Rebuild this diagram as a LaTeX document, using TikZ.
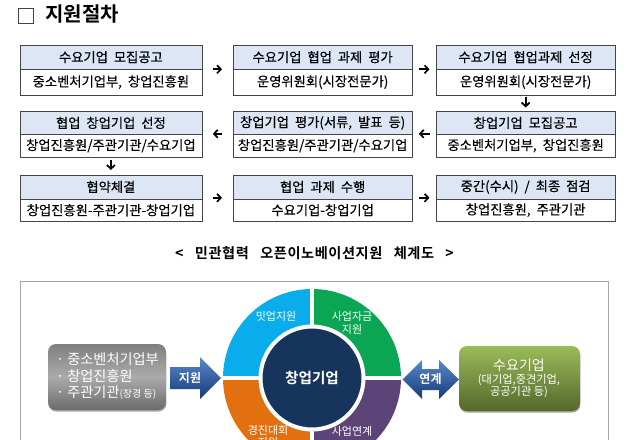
\documentclass[tikz,border=0pt]{standalone}
\usepackage{fontspec}
\setmainfont{Noto Sans CJK KR}[BoldFont={Noto Sans CJK KR Bold}]
\newfontfamily\bodyfont{Noto Sans CJK KR}[FakeBold=0.35,WordSpace=2.0]
\newfontfamily\capfont{Noto Sans CJK KR Bold}[LetterSpace=4,WordSpace=3]
\usetikzlibrary{arrows.meta,shadows,calc}
\definecolor{hdfill}{HTML}{DCE6F5}
\definecolor{boxline}{HTML}{454545}
\definecolor{secblue}{HTML}{0AADEB}
\definecolor{secgreen}{HTML}{0BA653}
\definecolor{secorange}{HTML}{E2700F}
\definecolor{secpurple}{HTML}{5C4478}
\definecolor{navy}{HTML}{16345C}
\definecolor{arrowtop}{RGB}{88,136,205}
\definecolor{arrowbot}{RGB}{24,58,118}
\definecolor{greentop}{RGB}{155,187,89}
\definecolor{greenbot}{RGB}{84,104,43}
\tikzset{
  x=1pt,y=-1pt,
  boxbase/.style={draw=boxline,line width=0.8pt,inner sep=0pt,anchor=north west,text=black,font=\bodyfont\fontsize{13.3}{15}\selectfont},
  hdA/.style={boxbase,fill=hdfill,minimum width=182pt},
  hdB/.style={boxbase,fill=hdfill,minimum width=179.5pt},
  bdA/.style={boxbase,fill=white,minimum width=182pt},
  bdB/.style={boxbase,fill=white,minimum width=179.5pt},
  flow/.style={-{Straight Barb[length=3.8pt,width=8pt,line width=1.7pt]},line width=1.7pt,black},
  seclabel/.style={text=white,font=\fontsize{11}{12.5}\selectfont,inner sep=0pt,align=center},
  softshadow/.style={drop shadow={shadow xshift=0.4pt,shadow yshift=-1.6pt,opacity=0.35,fill=black}},
  arrowshade/.style={top color=arrowtop,bottom color=arrowbot},
  arrowlabel/.style={inner sep=0pt,text=white,font=\bfseries\fontsize{12}{14}\selectfont},
}
\begin{document}
\begin{tikzpicture}
\useasboundingbox (0,0) rectangle (628,439);
\fill[white] (0,0) rectangle (628,439);
\begin{scope}
\clip (0,0) rectangle (628,439);

% heading
\node[draw=boxline,line width=0.8pt,minimum size=15pt,inner sep=0pt] (check) at (26,15.5) {};
\node[anchor=west,inner sep=0pt,font=\bfseries\fontsize{20}{22}\selectfont] (title) at (45,14.5) {지원절차};

% row 1
\node[hdA,minimum height=23.5pt] (h1) at (19.5,45) {수요기업 모집공고};
\node[bdA,minimum height=26.5pt] (b1) at (19.5,68.5) {중소벤처기업부, 창업진흥원};
\node[hdB,minimum height=23.5pt] (h2) at (232.5,45) {수요기업 협업 과제 평가};
\node[bdB,minimum height=26.5pt] (b2) at (232.5,68.5) {운영위원회(시장전문가)};
\node[hdB,minimum height=23.5pt] (h3) at (435.5,45) {수요기업 협업과제 선정};
\node[bdB,minimum height=26.5pt] (b3) at (435.5,68.5) {운영위원회(시장전문가)};
% row 2
\node[hdA,minimum height=23pt] (h6) at (19.5,111) {협업 창업기업 선정};
\node[bdA,minimum height=22.5pt] (b6) at (19.5,134) {창업진흥원/주관기관/수요기업};
\node[hdB,minimum height=23pt] (h5) at (232.5,111) {창업기업 평가(서류, 발표 등)};
\node[bdB,minimum height=22.5pt] (b5) at (232.5,134) {창업진흥원/주관기관/수요기업};
\node[hdB,minimum height=23pt] (h4) at (435.5,111) {창업기업 모집공고};
\node[bdB,minimum height=22.5pt] (b4) at (435.5,134) {중소벤처기업부, 창업진흥원};
% row 3
\node[hdA,minimum height=24pt] (h7) at (19.5,174.5) {협약체결};
\node[bdA,minimum height=22.5pt] (b7) at (19.5,198.5) {창업진흥원-주관기관-창업기업};
\node[hdB,minimum height=24pt] (h8) at (232.5,174.5) {협업 과제 수행};
\node[bdB,minimum height=22.5pt] (b8) at (232.5,198.5) {수요기업-창업기업};
\node[hdB,minimum height=24pt] (h9) at (435.5,174.5) {중간(수시) / 최종 점검};
\node[bdB,minimum height=22.5pt] (b9) at (435.5,198.5) {창업진흥원, 주관기관};

% flow arrows
\draw[flow,shorten <=10.5pt,shorten >=10.5pt] (h1.south east) -- (h2.south west);
\draw[flow,shorten <=6pt,shorten >=6pt] (h2.south east) -- (h3.south west);
\draw[flow,shorten <=1.5pt,shorten >=3.5pt] (b3.south) -- (h4.north);
\draw[flow,shorten <=6pt,shorten >=6pt] ([yshift=1pt]h4.south west) -- ([yshift=1pt]h5.south east);
\draw[flow,shorten <=10.5pt,shorten >=10.5pt] ([yshift=1pt]h5.south west) -- ([yshift=1pt]h6.south east);
\draw[flow,shorten <=2.5pt,shorten >=4.5pt] (b6.south) -- (h7.north);
\draw[flow,shorten <=10.5pt,shorten >=10.5pt] ([yshift=1.5pt]h7.south east) -- ([yshift=1.5pt]h8.south west);
\draw[flow,shorten <=6pt,shorten >=6pt] ([yshift=1.5pt]h8.south east) -- ([yshift=1.5pt]h9.south west);

% caption
\node[inner sep=0pt,font=\capfont\fontsize{14.2}{16}\selectfont] (caption) at (314.5,253) {< 민관협력 오픈이노베이션지원 체계도 >};

% frame
\draw[draw=black!35,line width=0.9pt] (20.5,445) -- (20.5,281) -- (608,281) -- (608,445);

% wheel
\coordinate (w) at (312,378);
\begin{scope}[y=1pt]
\fill[secblue]   (w) -- ++(90:89) arc[start angle=90,end angle=180,radius=89] -- cycle;
\fill[secgreen]  (w) -- ++(0:89) arc[start angle=0,end angle=90,radius=89] -- cycle;
\fill[secorange] (w) -- ++(180:89) arc[start angle=180,end angle=270,radius=89] -- cycle;
\fill[secpurple] (w) -- ++(270:89) arc[start angle=270,end angle=360,radius=89] -- cycle;
\end{scope}
\draw[white,line width=4.4pt] ($(w)+(-92,0)$) -- ($(w)+(92,0)$);
\draw[white,line width=4.4pt] ($(w)+(0,-92)$) -- ($(w)+(0,92)$);
\node[circle,fill=navy,draw=white,line width=4pt,minimum size=103pt,inner sep=0pt,text=white,font=\bfseries\fontsize{14.6}{16}\selectfont] (core) at (w) {창업기업};
\node[seclabel] (s1) at (276,316) {밋업지원};
\node[seclabel] (s2) at (352,323) {사업자금\\지원};
\node[seclabel] (s3) at (268,436.5) {경진대회\\지원};
\node[seclabel] (s4) at (352,431.5) {사업연계};

% side boxes
\node[softshadow,rounded corners=8pt,minimum width=118pt,minimum height=66pt,inner sep=0pt,
  top color=black!50,bottom color=black!58,middle color=black!33] (left) at (107,377) {};
\node[anchor=west,inner sep=0pt,text=white,align=left,font=\fontsize{14.2}{16.5}\selectfont] (lefttext) at (56,376.5)
  {· 중소벤처기업부\\· 창업진흥원\\· 주관기관{\fontsize{10}{11}\selectfont (창경 등)}};
\node[softshadow,rounded corners=8pt,minimum width=121pt,minimum height=65pt,inner sep=0pt,
  top color=greentop,bottom color=greenbot] (right) at (519.5,378.5) {};
\node[inner sep=0pt,text=white,font=\fontsize{14}{16}\selectfont] (righttop) at (519,365) {수요기업};
\node[inner sep=0pt,text=white,align=center,font=\fontsize{11.2}{12.5}\selectfont] (rightsub) at (519,386) {(대기업,중견기업,\\공공기관 등)};

% big arrows
\shade[arrowshade]
  (170,367) -- (200,367) -- (200,357) -- (221,378) -- (200,399) -- (200,389) -- (170,389) -- cycle;
\node[arrowlabel] (lbl1) at (190,378) {지원};
\shade[arrowshade]
  (402.5,379.5) -- (422,360) -- (422,369) -- (439,369) -- (439,360) -- (459,379.5) -- (439,399) -- (439,390) -- (422,390) -- (422,399) -- cycle;
\node[arrowlabel] (lbl2) at (430.5,379) {연계};
\end{scope}
\end{tikzpicture}
\end{document}
